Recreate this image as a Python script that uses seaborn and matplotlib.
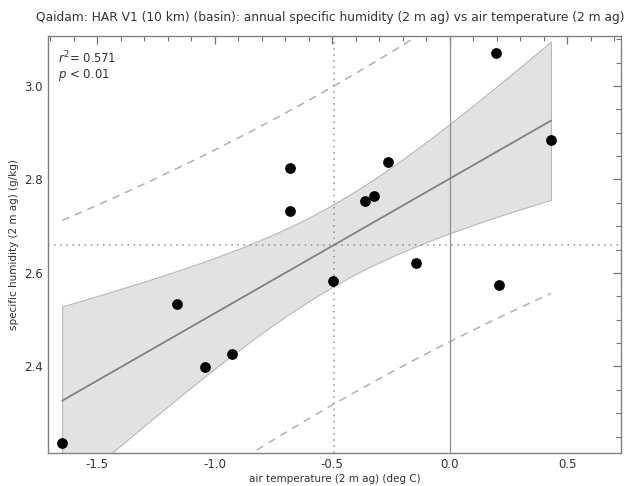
import numpy as np
import matplotlib
matplotlib.use("Agg")
import matplotlib.pyplot as plt
from matplotlib.ticker import MultipleLocator
import seaborn as sns

# annual values
air_temp = [-1.650, -1.159, -1.043, -0.928, -0.497, -0.142, 0.210,
            -0.359, -0.323, -0.261, 0.196, 0.431, -0.681, -0.678]
spec_hum = [2.236, 2.533, 2.399, 2.4265, 2.582, 2.621, 2.574,
            2.755, 2.765, 2.838, 3.071, 2.884, 2.825, 2.733]

title = "Qaidam: HAR V1 (10 km) (basin): annual specific humidity (2 m ag) vs air temperature (2 m ag)"
xlabel = "air temperature (2 m ag) (deg C)"
ylabel = "specific humidity (2 m ag) (g/kg)"

sns.set_theme(style="white")
plt.rcParams["font.family"] = ["DejaVu Sans"]
plt.rcParams["axes.unicode_minus"] = False

x = np.array(air_temp)
y = np.array(spec_hum)
n = len(x)

# ordinary least squares with analytic 95% bands
slope, intercept = np.polyfit(x, y, 1)
resid = y - (slope * x + intercept)
s = np.sqrt(np.sum(resid ** 2) / (n - 2))
sxx = np.sum((x - x.mean()) ** 2)
t95 = 2.179  # t(0.975, df=12)
r2 = 1 - np.sum(resid ** 2) / np.sum((y - y.mean()) ** 2)

xs = np.linspace(x.min(), x.max(), 200)
fit = slope * xs + intercept
ci = t95 * s * np.sqrt(1 / n + (xs - x.mean()) ** 2 / sxx)
pi = t95 * s * np.sqrt(1 + 1 / n + (xs - x.mean()) ** 2 / sxx)

fig = plt.figure(figsize=(6.27, 4.86), dpi=100)
ax = fig.add_axes([0.0766, 0.068, 0.9134, 0.858])

ax.fill_between(xs, fit - ci, fit + ci, color="#e2e2e2",
                edgecolor="#b8b8b8", linewidth=0.8, zorder=1)
ax.plot(xs, fit + pi, color="#b0b0b0", ls=(0, (5, 4)), lw=1.1, zorder=2)
ax.plot(xs, fit - pi, color="#b0b0b0", ls=(0, (5, 4)), lw=1.1, zorder=2)

ax.axvline(0, color="#909090", lw=0.9, zorder=2)
ax.axvline(x.mean(), color="#909090", ls=(0, (1, 3)), lw=1.1, zorder=2)
ax.axhline(y.mean(), color="#909090", ls=(0, (1, 3)), lw=1.1, zorder=2)

sns.lineplot(x=xs, y=fit, color="#808080", lw=1.3, ax=ax, zorder=3)
sns.scatterplot(x=x, y=y, color="black", s=60, edgecolor="black",
                linewidth=0, ax=ax, zorder=4)

ax.set_xlim(-1.71, 0.728)
ax.set_ylim(2.215, 3.107)
ax.xaxis.set_major_locator(MultipleLocator(0.5))
ax.xaxis.set_minor_locator(MultipleLocator(0.1))
ax.yaxis.set_major_locator(MultipleLocator(0.2))
ax.yaxis.set_minor_locator(MultipleLocator(0.05))
ax.tick_params(which="both", direction="in", top=True, right=True,
               color="#707070", labelsize=8.5, labelcolor="#333333")
ax.tick_params(which="major", length=6, width=0.9)
ax.tick_params(which="minor", length=3.5, width=0.8)
for sp in ax.spines.values():
    sp.set_color("#808080")
    sp.set_linewidth(1.0)

ax.set_xlabel(xlabel, fontsize=7.5, color="#333333", labelpad=2)
ax.set_ylabel(ylabel, fontsize=7.5, color="#333333", labelpad=4)
fig.text(0.527, 0.963, title, fontsize=8.8, color="#333333",
         ha="center", va="center")

ax.text(0.018, 0.968, r"$r^2$= %.3f" % r2, transform=ax.transAxes,
        fontsize=8.5, va="top", ha="left", color="#333333")
ax.text(0.018, 0.925, r"$p$ < 0.01", transform=ax.transAxes,
        fontsize=8.5, va="top", ha="left", color="#333333")

fig.savefig("out.png", dpi=100)
